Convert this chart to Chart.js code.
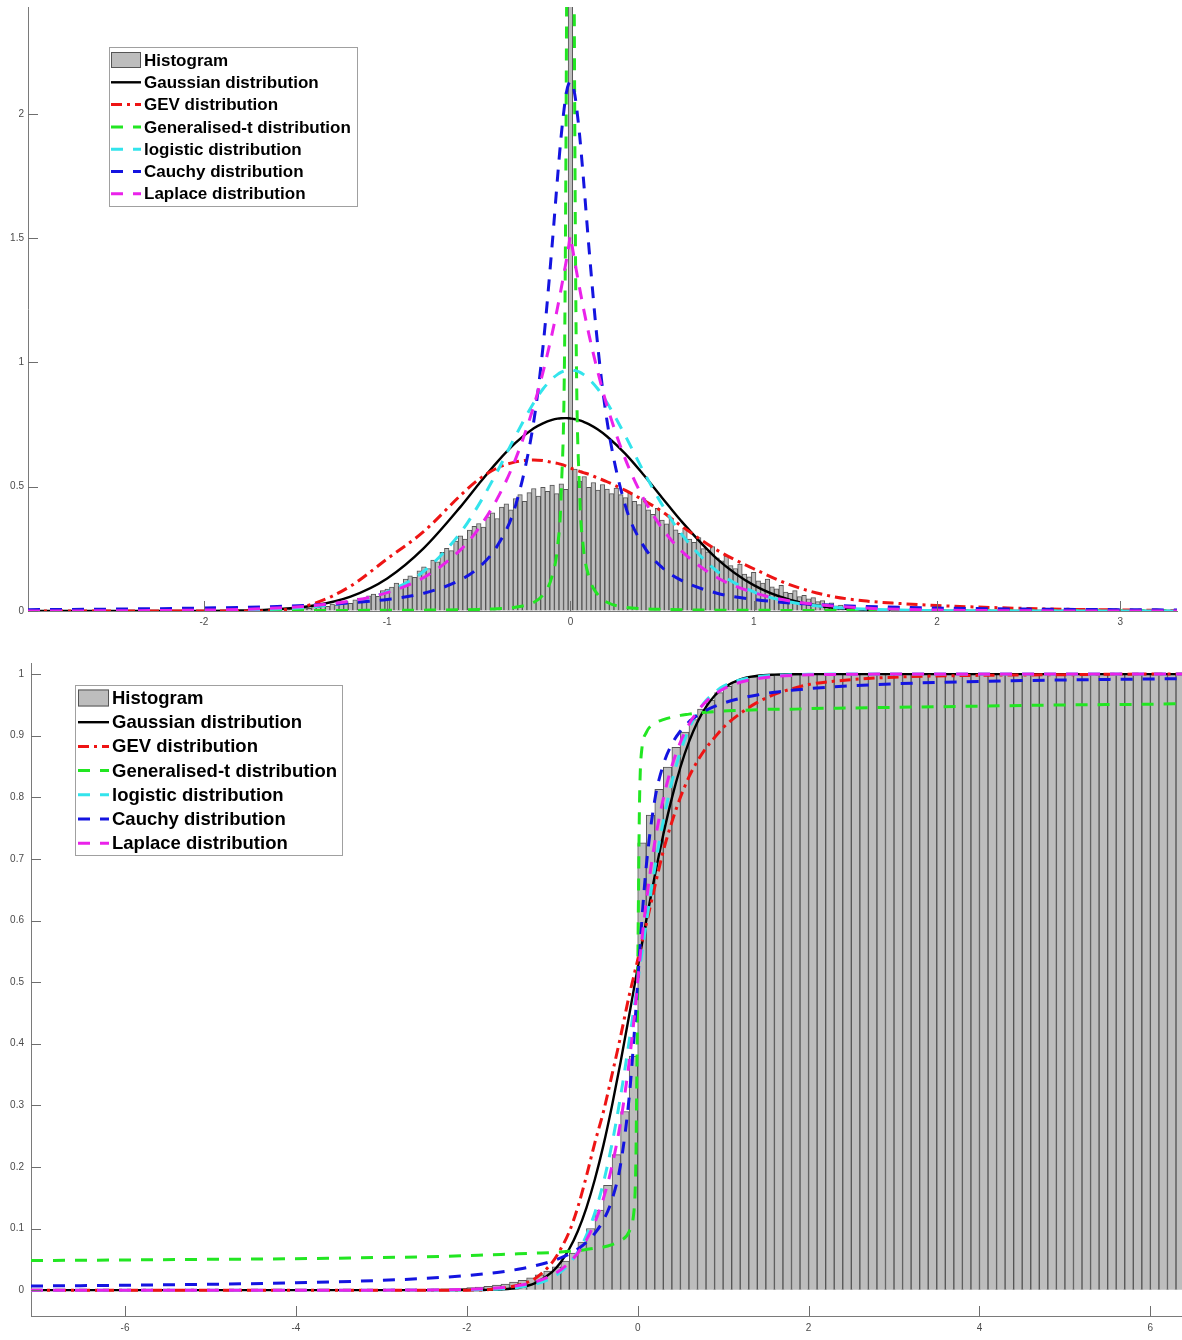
<!DOCTYPE html>
<html>
<head>
<meta charset="utf-8">
<title>Fitted distributions: density and cumulative</title>
<script src="https://cdn.jsdelivr.net/npm/chart.js@4/dist/chart.umd.min.js"></script>
<style>
  html, body { margin: 0; padding: 0; background: #ffffff; }
  body { width: 1182px; height: 1340px; position: relative; overflow: hidden; }
  .panel { position: absolute; left: 0; width: 1182px; }
  #pdfPanel { top: 0; height: 640px; }
  #cdfPanel { top: 640px; height: 700px; }
</style>
</head>
<body>
<div class="panel" id="pdfPanel"><canvas id="pdfChart"></canvas></div>
<div class="panel" id="cdfPanel"><canvas id="cdfChart"></canvas></div>
<script>
// ---------- series names ----------
const seriesLabels = [
  'Histogram',
  'Gaussian distribution',
  'GEV distribution',
  'Generalised-t distribution',
  'logistic distribution',
  'Cauchy distribution',
  'Laplace distribution'
];

// ---------- density panel (top) ----------
const pdfTicksX = [-2, -1, 0, 1, 2, 3];
const pdfTicksY = [0, 0.5, 1, 1.5, 2];

// histogram bins: first bin centre and bin width
const pdfHistFirstCentre = -1.6;
const pdfHistWidth = 0.025;
const pdfHist = [
  0.004, 0.006, 0.003, 0.008, 0.010, 0.007, 0.013, 0.011,
  0.018, 0.015, 0.022, 0.019, 0.028, 0.024, 0.033, 0.038,
  0.031, 0.045, 0.052, 0.047, 0.061, 0.068, 0.059, 0.082,
  0.088, 0.096, 0.112, 0.104, 0.128, 0.141, 0.135, 0.162,
  0.178, 0.171, 0.205, 0.198, 0.236, 0.252, 0.243, 0.281,
  0.302, 0.289, 0.326, 0.341, 0.352, 0.338, 0.379, 0.395,
  0.372, 0.418, 0.431, 0.407, 0.452, 0.468, 0.441, 0.476,
  0.493, 0.462, 0.498, 0.481, 0.507, 0.472, 0.512, 0.489,
  9.5,
  0.571, 0.523, 0.541, 0.498, 0.517, 0.486, 0.509, 0.491,
  0.472, 0.495, 0.468, 0.456, 0.474, 0.441, 0.428, 0.452,
  0.407, 0.389, 0.413, 0.366, 0.351, 0.372, 0.327, 0.312,
  0.334, 0.289, 0.276, 0.295, 0.251, 0.238, 0.259, 0.214,
  0.202, 0.221, 0.183, 0.171, 0.189, 0.149, 0.137, 0.156,
  0.121, 0.112, 0.128, 0.097, 0.089, 0.103, 0.076, 0.071,
  0.082, 0.058, 0.063, 0.049, 0.054, 0.038, 0.042, 0.029,
  0.033, 0.021, 0.024, 0.015, 0.017, 0.009, 0.011, 0.005
];

const pdfX = [-2.96, -2.5, -2.0, -1.8, -1.6, -1.4, -1.2, -1.0, -0.8, -0.6, -0.5, -0.4, -0.3, -0.2, -0.15,
  -0.1, -0.07, -0.05, -0.03, -0.02, -0.01, 0, 0.01, 0.02, 0.03, 0.05, 0.07, 0.1, 0.15, 0.2,
  0.3, 0.4, 0.5, 0.6, 0.8, 1.0, 1.2, 1.4, 1.6, 1.8, 2.0, 2.5, 3.0, 3.31];

const pdfGauss = [0, 0, 0.0004, 0.0021, 0.0074, 0.022, 0.058, 0.131, 0.253, 0.419, 0.511, 0.599, 0.676, 0.735, 0.755,
  0.769, 0.774, 0.7755, 0.776, 0.776, 0.7754, 0.7747, 0.7737, 0.7723, 0.7707, 0.7667, 0.7615, 0.752, 0.730, 0.702,
  0.632, 0.547, 0.456, 0.366, 0.210, 0.104, 0.0442, 0.0161, 0.0051, 0.0014, 0.0004, 0, 0, 0];

const pdfGev = [0, 0, 0, 0, 0.003, 0.03, 0.1, 0.21, 0.32, 0.465, 0.53, 0.575, 0.60, 0.608, 0.605,
  0.598, 0.594, 0.59, 0.585, 0.582, 0.579, 0.575, 0.572, 0.57, 0.567, 0.562, 0.557, 0.55, 0.535, 0.52,
  0.485, 0.445, 0.40, 0.345, 0.245, 0.17, 0.105, 0.063, 0.041, 0.03, 0.022, 0.01, 0.004, 0.002];

const pdfGenT = [0.001, 0.0012, 0.0015, 0.0016, 0.0018, 0.002, 0.0024, 0.0028, 0.0035, 0.005, 0.0065, 0.009, 0.015, 0.035, 0.065,
  0.14, 0.26, 0.48, 1.2, 2.6, 5, 12, 5, 2.6, 1.2, 0.48, 0.26, 0.14, 0.065, 0.035,
  0.015, 0.009, 0.0065, 0.005, 0.0035, 0.0028, 0.0024, 0.002, 0.0018, 0.0016, 0.0015, 0.0012, 0.001, 0.001];

const pdfLogistic = [0, 0.0002, 0.0017, 0.0036, 0.0078, 0.017, 0.036, 0.077, 0.16, 0.315, 0.428, 0.56, 0.704, 0.838, 0.893,
  0.934, 0.952, 0.961, 0.967, 0.968, 0.97, 0.97, 0.97, 0.968, 0.967, 0.961, 0.952, 0.934, 0.893, 0.838,
  0.704, 0.56, 0.428, 0.315, 0.16, 0.077, 0.036, 0.017, 0.0078, 0.0036, 0.0017, 0.0002, 0, 0];

const pdfCauchy = [0.0054, 0.0076, 0.0118, 0.0146, 0.0184, 0.024, 0.0325, 0.0465, 0.0717, 0.125, 0.175, 0.261, 0.423, 0.763, 1.061,
  1.471, 1.747, 1.915, 2.047, 2.093, 2.12, 2.13, 2.12, 2.093, 2.047, 1.915, 1.747, 1.471, 1.061, 0.763,
  0.423, 0.261, 0.175, 0.125, 0.0717, 0.0465, 0.0325, 0.024, 0.0184, 0.0146, 0.0118, 0.0076, 0.0053, 0.0043];

const pdfLaplace = [0.0002, 0.0008, 0.0036, 0.0066, 0.012, 0.022, 0.040, 0.074, 0.135, 0.246, 0.333, 0.451, 0.610, 0.825, 0.960,
  1.116, 1.222, 1.299, 1.379, 1.421, 1.465, 1.51, 1.465, 1.421, 1.379, 1.299, 1.222, 1.116, 0.960, 0.825,
  0.610, 0.451, 0.333, 0.246, 0.135, 0.074, 0.040, 0.022, 0.012, 0.0066, 0.0036, 0.0008, 0.0002, 0.0001];

// ---------- cumulative panel (bottom) ----------
const cdfTicksX = [-6, -4, -2, 0, 2, 4, 6];
const cdfTicksY = [0, 0.1, 0.2, 0.3, 0.4, 0.5, 0.6, 0.7, 0.8, 0.9, 1];

const cdfHistFirstCentre = -2.45;
const cdfHistWidth = 0.1;
const cdfHist = [
  0.001, 0.0015, 0.002, 0.0025, 0.003, 0.004, 0.005, 0.006, 0.008, 0.010,
  0.013, 0.016, 0.020, 0.025, 0.031, 0.038, 0.047, 0.060, 0.078, 0.100,
  0.130, 0.170, 0.220, 0.290, 0.380,
  0.726, 0.771, 0.813, 0.849, 0.881, 0.906, 0.926, 0.943, 0.958, 0.970,
  0.980, 0.987, 0.992, 0.995, 0.997, 0.998, 0.999,
  1, 1, 1, 1, 1, 1, 1, 1, 1, 1,
  1, 1, 1, 1, 1, 1, 1, 1, 1, 1,
  1, 1, 1, 1, 1, 1, 1, 1, 1, 1,
  1, 1, 1, 1, 1, 1, 1, 1, 1, 1,
  1, 1, 1, 1, 1, 1, 1
];

const cdfX = [-7.1, -6, -5, -4, -3, -2.5, -2, -1.8, -1.6, -1.4, -1.2, -1.0, -0.9, -0.8, -0.7, -0.6, -0.5,
  -0.4, -0.3, -0.2, -0.1, -0.05, -0.03, -0.02, -0.01, 0, 0.01, 0.02, 0.03, 0.05, 0.1, 0.2, 0.3, 0.4,
  0.5, 0.6, 0.7, 0.8, 0.9, 1.0, 1.2, 1.4, 1.6, 1.8, 2.0, 2.5, 3, 4, 5, 6, 6.4];

const cdfGauss = [0, 0, 0, 0, 0, 0, 0.0001, 0.0003, 0.0011, 0.0038, 0.0114, 0.0296, 0.0452, 0.0671, 0.0961, 0.1337, 0.1803,
  0.2358, 0.2998, 0.3704, 0.4459, 0.4845, 0.5, 0.5078, 0.5155, 0.5233, 0.531, 0.5388, 0.5465, 0.5619, 0.5999, 0.6727, 0.7396, 0.7987,
  0.8488, 0.8899, 0.9222, 0.9468, 0.9648, 0.9775, 0.9916, 0.9973, 0.9992, 0.9998, 1, 1, 1, 1, 1, 1, 1];

const cdfGev = [0, 0, 0, 0, 0, 0, 0, 0.0005, 0.003, 0.008, 0.019, 0.045, 0.067, 0.095, 0.135, 0.185, 0.24,
  0.29, 0.35, 0.412, 0.478, 0.507, 0.519, 0.525, 0.53, 0.536, 0.542, 0.548, 0.554, 0.565, 0.594, 0.655, 0.713, 0.76,
  0.8, 0.833, 0.859, 0.88, 0.897, 0.913, 0.936, 0.954, 0.967, 0.976, 0.983, 0.991, 0.995, 0.998, 0.999, 1, 1];

const cdfGenT = [0.048, 0.049, 0.05, 0.051, 0.053, 0.054, 0.056, 0.057, 0.058, 0.059, 0.06, 0.061, 0.062, 0.063, 0.064, 0.066, 0.068,
  0.07, 0.074, 0.08, 0.095, 0.12, 0.16, 0.22, 0.35, 0.5, 0.65, 0.78, 0.84, 0.88, 0.905, 0.92, 0.926, 0.93,
  0.933, 0.935, 0.937, 0.938, 0.939, 0.94, 0.941, 0.942, 0.943, 0.943, 0.944, 0.945, 0.946, 0.948, 0.95, 0.951, 0.952];

const cdfLogistic = [0, 0, 0, 0, 0, 0.0001, 0.0004, 0.0009, 0.002, 0.0044, 0.0095, 0.0203, 0.0297, 0.043, 0.0622, 0.089, 0.126,
  0.175, 0.238, 0.315, 0.404, 0.452, 0.471, 0.481, 0.49, 0.5, 0.51, 0.519, 0.529, 0.548, 0.596, 0.685, 0.762, 0.825,
  0.874, 0.911, 0.938, 0.957, 0.970, 0.980, 0.9905, 0.9956, 0.998, 0.9991, 0.9996, 1, 1, 1, 1, 1, 1];

const cdfCauchy = [0.0067, 0.0079, 0.0095, 0.0119, 0.0158, 0.019, 0.0237, 0.0264, 0.0296, 0.0339, 0.0395, 0.0472, 0.0524, 0.0588, 0.0669, 0.0777, 0.0924,
  0.1138, 0.1471, 0.2042, 0.3124, 0.3972, 0.4369, 0.4576, 0.4787, 0.5, 0.5213, 0.5424, 0.5631, 0.6028, 0.6876, 0.7958, 0.8529, 0.8862,
  0.9076, 0.9223, 0.9331, 0.9412, 0.9476, 0.9528, 0.9605, 0.9661, 0.9704, 0.9736, 0.9763, 0.981, 0.9842, 0.9881, 0.9905, 0.9921, 0.9926];

const cdfLaplace = [0, 0, 0, 0, 0, 0.0003, 0.0012, 0.0022, 0.004, 0.0073, 0.0133, 0.0244, 0.033, 0.0446, 0.0603, 0.0816, 0.1104,
  0.1494, 0.202, 0.273, 0.37, 0.43, 0.4567, 0.4707, 0.485, 0.5, 0.515, 0.5293, 0.5433, 0.57, 0.63, 0.727, 0.798, 0.8506,
  0.8896, 0.9184, 0.9397, 0.9554, 0.967, 0.9756, 0.9867, 0.9927, 0.996, 0.9978, 0.9988, 0.9997, 1, 1, 1, 1, 1];

// ---------- styles ----------
const tickFont = '"Liberation Sans", Arial, sans-serif';
const legendFont = '"Liberation Sans", Arial, sans-serif';
const axisColor = '#7a7a7a';
const histFill = '#bdbdbd';
const histEdge = '#555555';
const lineStyles = [
  { color: '#000000', width: 2.4, dash: [] },
  { color: '#ee1414', width: 3, dash: [11, 5, 3, 5] },
  { color: '#22e622', width: 3, dash: [12, 10] },
  { color: '#33e4ec', width: 3, dash: [12, 10] },
  { color: '#1414e0', width: 3, dash: [12, 10] },
  { color: '#ea22ea', width: 3, dash: [12, 10] }
];

// ---------- dataset builders ----------
function histDataset(firstCentre, width, heights, edgeWidth) {
  return {
    type: 'bar',
    label: seriesLabels[0],
    data: heights.map((h, i) => ({ x: firstCentre + width * i, y: h })),
    backgroundColor: histFill,
    borderColor: histEdge,
    borderWidth: edgeWidth,
    barPercentage: 1,
    categoryPercentage: 1,
    order: 10
  };
}

function curveDataset(k, xs, ys) {
  const st = lineStyles[k];
  return {
    type: 'line',
    label: seriesLabels[k + 1],
    data: xs.map((x, i) => ({ x: x, y: ys[i] })),
    borderColor: st.color,
    backgroundColor: st.color,
    borderWidth: st.width,
    borderDash: st.dash,
    pointRadius: 0,
    pointHoverRadius: 0,
    fill: false,
    tension: 0.4,
    cubicInterpolationMode: 'monotone',
    order: 6 - k
  };
}

// ---------- plugins ----------
// tick marks pointing into the plot area
const innerTicksPlugin = {
  id: 'innerTicks',
  afterDatasetsDraw(chart, args, opts) {
    const { ctx, chartArea: a, scales: { x, y } } = chart;
    ctx.save();
    ctx.strokeStyle = opts.color;
    ctx.lineWidth = 1;
    ctx.beginPath();
    x.ticks.forEach(t => {
      const px = Math.round(x.getPixelForValue(t.value)) + 0.5;
      ctx.moveTo(px, a.bottom);
      ctx.lineTo(px, a.bottom - opts.length);
    });
    y.ticks.forEach(t => {
      const py = Math.round(y.getPixelForValue(t.value)) + 0.5;
      ctx.moveTo(a.left, py);
      ctx.lineTo(a.left + opts.length, py);
    });
    ctx.stroke();
    ctx.restore();
  }
};

// boxed legend inside the plot area
const insetLegendPlugin = {
  id: 'insetLegend',
  afterDraw(chart, args, o) {
    const ctx = chart.ctx;
    ctx.save();
    ctx.fillStyle = '#ffffff';
    ctx.fillRect(o.x, o.y, o.w, o.h);
    ctx.strokeStyle = '#a0a0a0';
    ctx.lineWidth = 1;
    ctx.strokeRect(o.x + 0.5, o.y + 0.5, o.w, o.h);
    ctx.font = 'bold ' + o.fontSize + 'px ' + legendFont;
    ctx.textBaseline = 'middle';
    ctx.textAlign = 'left';
    chart.data.datasets.forEach((ds, i) => {
      const cy = o.y + o.firstRow + i * o.rowStep;
      const sx = o.x + o.sampleInset;
      if (ds.type === 'bar') {
        ctx.fillStyle = ds.backgroundColor;
        ctx.fillRect(sx, cy - o.swatchH / 2, o.sampleLen, o.swatchH);
        ctx.strokeStyle = ds.borderColor;
        ctx.lineWidth = 1;
        ctx.strokeRect(sx + 0.5, cy - o.swatchH / 2 + 0.5, o.sampleLen - 1, o.swatchH - 1);
      } else {
        ctx.strokeStyle = ds.borderColor;
        ctx.lineWidth = ds.borderWidth;
        ctx.setLineDash(ds.borderDash);
        ctx.beginPath();
        ctx.moveTo(sx, cy);
        ctx.lineTo(sx + o.sampleLen, cy);
        ctx.stroke();
        ctx.setLineDash([]);
      }
      ctx.fillStyle = '#000000';
      ctx.fillText(ds.label, sx + o.sampleLen + o.textGap, cy + 1);
    });
    ctx.restore();
  }
};

function zeroPadding(s) {
  s.paddingLeft = 0; s.paddingRight = 0; s.paddingTop = 0; s.paddingBottom = 0;
}

function makeChart(canvasId, spec) {
  return new Chart(document.getElementById(canvasId), {
    type: 'line',
    data: { datasets: spec.datasets },
    options: {
      responsive: true,
      maintainAspectRatio: false,
      animation: false,
      devicePixelRatio: 1,
      events: [],
      layout: { padding: spec.padding },
      plugins: {
        legend: { display: false },
        tooltip: { enabled: false },
        insetLegend: spec.legend,
        innerTicks: { length: 10, color: '#6e6e6e' }
      },
      scales: {
        x: {
          type: 'linear',
          min: spec.xMin,
          max: spec.xMax,
          offset: false,
          afterBuildTicks: s => { s.ticks = spec.xTicks.map(v => ({ value: v })); },
          afterFit: s => { s.height = spec.xAxisHeight; zeroPadding(s); },
          grid: { display: true, drawOnChartArea: false, drawTicks: false },
          border: { display: true, color: axisColor, width: 1 },
          ticks: {
            padding: spec.xPad, color: '#4a4a4a', maxRotation: 0, autoSkip: false,
            font: { family: tickFont, size: 10 },
            callback: v => String(v)
          }
        },
        y: {
          type: 'linear',
          min: spec.yMin,
          max: spec.yMax,
          afterBuildTicks: s => { s.ticks = spec.yTicks.map(v => ({ value: v })); },
          afterFit: s => { s.width = spec.yAxisWidth; zeroPadding(s); },
          grid: { display: true, drawOnChartArea: false, drawTicks: false },
          border: { display: true, color: axisColor, width: 1 },
          ticks: {
            padding: spec.yPad, color: '#4a4a4a', autoSkip: false,
            font: { family: tickFont, size: 10 },
            callback: v => String(v)
          }
        }
      }
    },
    plugins: [innerTicksPlugin, insetLegendPlugin]
  });
}

// ---------- density chart ----------
makeChart('pdfChart', {
  datasets: [
    histDataset(pdfHistFirstCentre, pdfHistWidth, pdfHist, 1),
    curveDataset(0, pdfX, pdfGauss),
    curveDataset(1, pdfX, pdfGev),
    curveDataset(2, pdfX, pdfGenT),
    curveDataset(3, pdfX, pdfLogistic),
    curveDataset(4, pdfX, pdfCauchy),
    curveDataset(5, pdfX, pdfLaplace)
  ],
  padding: { left: 0, right: 5, top: 7, bottom: 0 },
  xMin: -2.96, xMax: 3.31, xTicks: pdfTicksX, xAxisHeight: 29, xPad: 5,
  yMin: 0, yMax: 2.43, yTicks: pdfTicksY, yAxisWidth: 28, yPad: 4,
  legend: { x: 109, y: 47, w: 248, h: 159, firstRow: 13, rowStep: 22.3, sampleInset: 2,
            sampleLen: 30, textGap: 3, fontSize: 17, swatchH: 16 }
});

// ---------- cumulative chart ----------
makeChart('cdfChart', {
  datasets: [
    histDataset(cdfHistFirstCentre, cdfHistWidth, cdfHist, 1),
    curveDataset(0, cdfX, cdfGauss),
    curveDataset(1, cdfX, cdfGev),
    curveDataset(2, cdfX, cdfGenT),
    curveDataset(3, cdfX, cdfLogistic),
    curveDataset(4, cdfX, cdfCauchy),
    curveDataset(5, cdfX, cdfLaplace)
  ],
  padding: { left: 0, right: 0, top: 23, bottom: 0 },
  xMin: -7.1, xMax: 6.37, xTicks: cdfTicksX, xAxisHeight: 24, xPad: 6,
  yMin: -0.042, yMax: 1.018, yTicks: cdfTicksY, yAxisWidth: 31, yPad: 7,
  legend: { x: 75, y: 45, w: 267, h: 170, firstRow: 13, rowStep: 24.2, sampleInset: 3,
            sampleLen: 31, textGap: 3, fontSize: 18.5, swatchH: 17 }
});
</script>
</body>
</html>
